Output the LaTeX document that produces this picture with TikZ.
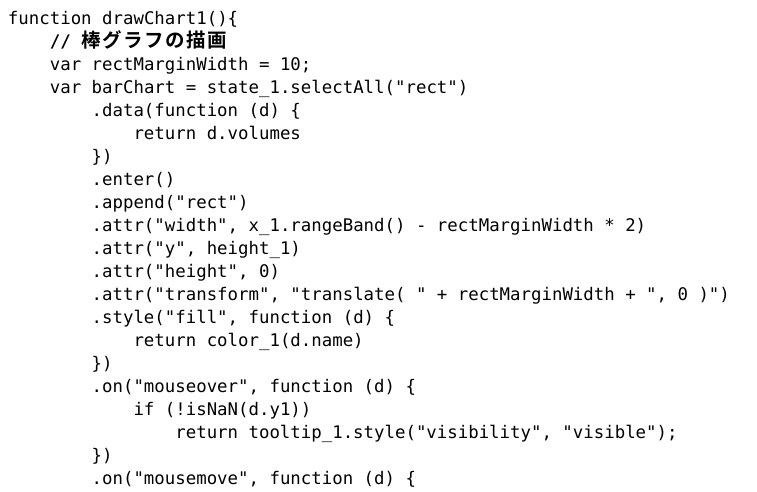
\documentclass[tikz,border=0pt]{standalone}
\usepackage{fontspec}
\newfontfamily\codefont{DejaVu Sans Mono}
\newfontfamily\cjkfont{Noto Sans CJK JP}[BoldFont={* Bold}]
\newcommand{\cw}{10.46pt}
\newcommand{\jc}[1]{\makebox[20.92pt][c]{#1}}
\begin{document}
\begin{tikzpicture}[x=1pt,y=1pt,
  codeline/.style={anchor=base west,inner sep=0pt,outer sep=0pt,font=\codefont\fontsize{17.38pt}{23pt}\selectfont,text=black}]
\useasboundingbox[fill=white] (0,0) rectangle (757,492);
\def\lx#1{8+#1*10.46}
\def\ly#1{492-25-(#1-1)*23}
\node[codeline] (l1) at ({\lx{0}},{\ly{1}}) {function drawChart1()\{};
\node[codeline] (l2) at ({\lx{4}},{\ly{2}}) {\bfseries //\makebox[\cw]{}{\cjkfont\fontsize{19.5pt}{23pt}\selectfont\bfseries\jc{棒}\jc{グ}\jc{ラ}\jc{フ}\jc{の}\jc{描}\jc{画}}};
\node[codeline] (l3) at ({\lx{4}},{\ly{3}}) {var rectMarginWidth = 10;};
\node[codeline] (l4) at ({\lx{4}},{\ly{4}}) {var barChart = state\_1.selectAll("rect")};
\node[codeline] (l5) at ({\lx{8}},{\ly{5}}) {.data(function (d) \{};
\node[codeline] (l6) at ({\lx{12}},{\ly{6}}) {return d.volumes};
\node[codeline] (l7) at ({\lx{8}},{\ly{7}}) {\})};
\node[codeline] (l8) at ({\lx{8}},{\ly{8}}) {.enter()};
\node[codeline] (l9) at ({\lx{8}},{\ly{9}}) {.append("rect")};
\node[codeline] (l10) at ({\lx{8}},{\ly{10}}) {.attr("width", x\_1.rangeBand() - rectMarginWidth * 2)};
\node[codeline] (l11) at ({\lx{8}},{\ly{11}}) {.attr("y", height\_1)};
\node[codeline] (l12) at ({\lx{8}},{\ly{12}}) {.attr("height", 0)};
\node[codeline] (l13) at ({\lx{8}},{\ly{13}}) {.attr("transform", "translate( " + rectMarginWidth + ", 0 )")};
\node[codeline] (l14) at ({\lx{8}},{\ly{14}}) {.style("fill", function (d) \{};
\node[codeline] (l15) at ({\lx{12}},{\ly{15}}) {return color\_1(d.name)};
\node[codeline] (l16) at ({\lx{8}},{\ly{16}}) {\})};
\node[codeline] (l17) at ({\lx{8}},{\ly{17}}) {.on("mouseover", function (d) \{};
\node[codeline] (l18) at ({\lx{12}},{\ly{18}}) {if (!isNaN(d.y1))};
\node[codeline] (l19) at ({\lx{16}},{\ly{19}}) {return tooltip\_1.style("visibility", "visible");};
\node[codeline] (l20) at ({\lx{8}},{\ly{20}}) {\})};
\node[codeline] (l21) at ({\lx{8}},{\ly{21}}) {.on("mousemove", function (d) \{};
\end{tikzpicture}
\end{document}
